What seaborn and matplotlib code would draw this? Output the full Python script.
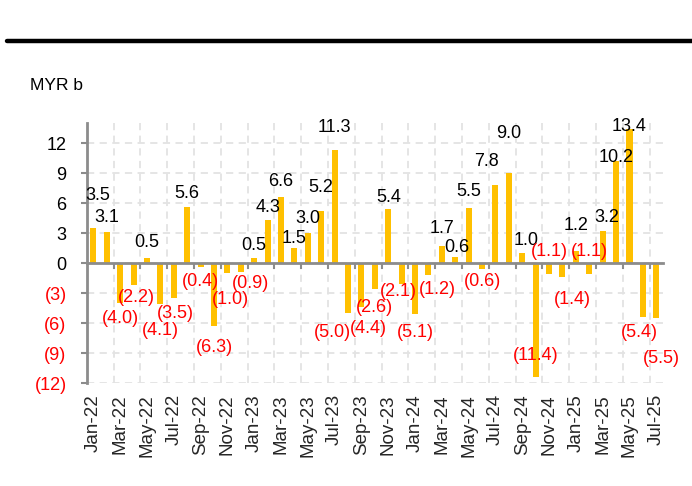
import matplotlib
matplotlib.use("Agg")
import matplotlib.pyplot as plt
from matplotlib.lines import Line2D
import seaborn as sns
import pandas as pd

# ---------------- data ----------------
months = [
    "Jan-22", "Feb-22", "Mar-22", "Apr-22", "May-22", "Jun-22", "Jul-22", "Aug-22",
    "Sep-22", "Oct-22", "Nov-22", "Dec-22",
    "Jan-23", "Feb-23", "Mar-23", "Apr-23", "May-23", "Jun-23", "Jul-23", "Aug-23",
    "Sep-23", "Oct-23", "Nov-23", "Dec-23",
    "Jan-24", "Feb-24", "Mar-24", "Apr-24", "May-24", "Jun-24", "Jul-24", "Aug-24",
    "Sep-24", "Oct-24", "Nov-24", "Dec-24",
    "Jan-25", "Feb-25", "Mar-25", "Apr-25", "May-25", "Jun-25", "Jul-25",
]
flows = [
    3.5, 3.1, -4.0, -2.2, 0.5, -4.1, -3.5, 5.6, -0.4, -6.3, -1.0, -0.9,
    0.5, 4.3, 6.6, 1.5, 3.0, 5.2, 11.3, -5.0, -4.4, -2.6, 5.4, -2.1,
    -5.1, -1.2, 1.7, 0.6, 5.5, -0.6, 7.8, 9.0, 1.0, -11.4, -1.1, -1.4,
    1.2, -1.1, 3.2, 10.2, 13.4, -5.4, -5.5,
]
y_ticks = [-12, -9, -6, -3, 0, 3, 6, 9, 12]
y_tick_labels = ["(12)", "(9)", "(6)", "(3)", "0", "3", "6", "9", "12"]
unit_label = "MYR b"

# label placement nudges (style): distance of label centre from bar end, and sideways shift (pixels)
label_dist_px = [
    33, 15, 15, 13, 16, 26, 15, 14, 15, 21, 27, 11,
    13, 13, 15, 10, 15, 24, 23, 19, 21, 18, 11, 8,
    18, 15, 18, 10, 16, 13, 24, 39, 13, -22, -22, 23,
    26, -22, 13, 4, 2, 15, 40,
]
label_dx_px = [
    4, 0, 0, 3, 0, 0, 2, 0, 0, 0, 3, 10,
    0, 0, 0, 0, 0, 0, 0, -16, 7, 0, 0, -3,
    0, 9, 0, 2, 0, 0, -9, 0, 4, 0, 0, 10,
    0, 0, 4, 0, 0, -4, 5,
]

df = pd.DataFrame({"month": months, "flow": flows})

# ---------------- style ----------------
sns.set_theme(style="white")
FONT = ["Liberation Sans Narrow", "Liberation Sans", "DejaVu Sans"]
plt.rcParams["font.family"] = FONT

BAR = "#FFC000"
GREY = "#8c8c8c"
GRID = "#e3e3e3"
RED = "#ff0000"
LABEL_FS = 13

fig = plt.figure(figsize=(6.92, 4.86), dpi=100)
W, H = 692, 486
ax = fig.add_axes([86.7 / W, 1 - 383 / H, (663 - 86.7) / W, 260 / H])

sns.barplot(data=df, x="month", y="flow", color=BAR, width=0.45,
            saturation=1, edgecolor="none", linewidth=0, ax=ax)

n = len(months)
ax.set_xlim(-0.5, n - 0.5)
ax.set_ylim(-12, 14)
ax.set_xlabel("")
ax.set_ylabel("")

# y axis
ax.set_yticks(y_ticks)
ax.set_yticklabels(y_tick_labels, fontsize=13)
for t, v in zip(ax.get_yticklabels(), y_ticks):
    t.set_color(RED if v < 0 else "black")
ax.tick_params(axis="y", direction="out", length=4.5, width=1.5, color=GREY, pad=10, left=True)

# zero axis with ticks between every two categories
bounds = [i + 0.5 for i in range(1, n - 1, 2)]
ax.spines["bottom"].set_position(("data", 0))
ax.spines["bottom"].set_color(GREY)
ax.spines["bottom"].set_linewidth(2)
ax.spines["bottom"].set_zorder(3)
ax.set_xticks(bounds)
ax.set_xticklabels([])
ax.tick_params(axis="x", direction="out", length=4, width=1.5, color=GREY, bottom=True)

ax.spines["left"].set_color(GREY)
ax.spines["left"].set_linewidth(2)
ax.spines["top"].set_visible(False)
ax.spines["right"].set_visible(False)

# grid
ax.set_axisbelow(True)
ax.grid(True, axis="both", color=GRID, linestyle=(0, (4, 3)), linewidth=1.3)

# month labels at bottom
sec = ax.secondary_xaxis("bottom")
pos = list(range(0, n, 2))
sec.set_xticks(pos)
sec.set_xticklabels([months[i] for i in pos], rotation=90, fontsize=13.5)
sec.tick_params(length=0, pad=8)
sec.spines["bottom"].set_visible(False)

# data labels
for i, v in enumerate(flows):
    d = label_dist_px[i] * 0.72
    dx = label_dx_px[i] * 0.72
    if v >= 0:
        txt, col, dy = f"{v:.1f}", "black", d
    else:
        txt, col, dy = f"({abs(v):.1f})", RED, -d
    ax.annotate(txt, xy=(i, v), xytext=(dx, dy), textcoords="offset points",
                ha="center", va="center", fontsize=LABEL_FS, color=col,
                annotation_clip=False, zorder=5)

# header rule and unit
fig.add_artist(Line2D([7 / W, 1.0], [1 - 41 / H] * 2, color="black", linewidth=3.2))
fig.text(30 / W, 1 - 86 / H, unit_label, fontsize=12.5, va="center", ha="left", color="black")

fig.savefig("out.png", dpi=100)
